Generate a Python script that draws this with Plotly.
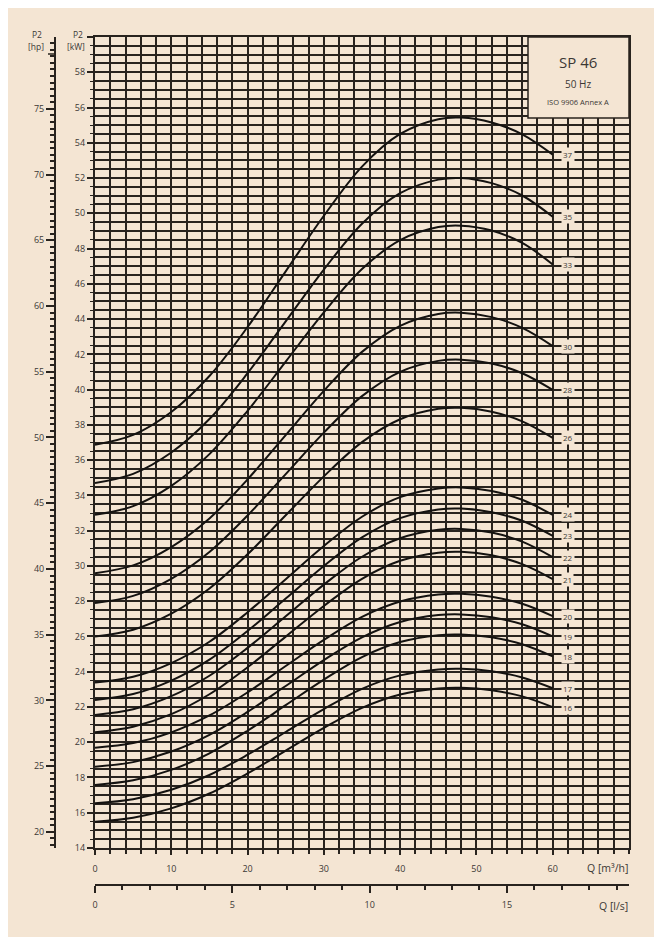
import plotly.graph_objects as go

# ---------------- data ----------------
Q_m3h = [0, 5, 10, 15, 20, 25, 30, 35, 40, 45, 48, 52, 56, 60]

P2_37 = [36.87, 37.43, 38.73, 40.77, 43.55, 46.71, 49.86, 52.65, 54.50, 55.34, 55.43, 55.15, 54.48, 53.33]
P2_35 = [34.70, 35.22, 36.43, 38.33, 40.93, 43.87, 46.81, 49.41, 51.14, 51.91, 52.00, 51.71, 51.01, 49.80]
P2_33 = [32.90, 33.39, 34.54, 36.34, 38.80, 41.59, 44.38, 46.84, 48.48, 49.22, 49.30, 49.02, 48.32, 47.10]
P2_30 = [29.59, 30.03, 31.07, 32.69, 34.91, 37.42, 39.93, 42.14, 43.62, 44.29, 44.36, 44.11, 43.50, 42.47]
P2_28 = [27.89, 28.30, 29.27, 30.79, 32.86, 35.21, 37.56, 39.63, 41.01, 41.63, 41.70, 41.48, 40.93, 39.98]
P2_26 = [25.99, 26.38, 27.29, 28.72, 30.66, 32.87, 35.08, 37.02, 38.32, 38.91, 38.97, 38.75, 38.20, 37.26]
P2_24 = [23.38, 23.71, 24.49, 25.70, 27.37, 29.25, 31.13, 32.79, 33.90, 34.39, 34.45, 34.25, 33.75, 32.89]
P2_23 = [22.40, 22.73, 23.49, 24.68, 26.31, 28.15, 30.00, 31.62, 32.71, 33.20, 33.25, 33.04, 32.56, 31.70]
P2_22 = [21.55, 21.87, 22.61, 23.77, 25.35, 27.14, 28.94, 30.52, 31.57, 32.05, 32.10, 31.89, 31.38, 30.50]
P2_21 = [20.57, 20.88, 21.59, 22.72, 24.25, 25.99, 27.73, 29.27, 30.29, 30.75, 30.80, 30.60, 30.10, 29.25]
P2_20 = [19.69, 19.95, 20.56, 21.52, 22.83, 24.32, 25.80, 27.11, 27.98, 28.38, 28.42, 28.25, 27.85, 27.15]
P2_19 = [18.61, 18.87, 19.47, 20.42, 21.72, 23.19, 24.66, 25.95, 26.82, 27.21, 27.25, 27.09, 26.69, 26.00]
P2_18 = [17.58, 17.84, 18.43, 19.37, 20.65, 22.10, 23.55, 24.83, 25.68, 26.07, 26.11, 25.95, 25.56, 24.87]
P2_17 = [16.54, 16.77, 17.30, 18.14, 19.29, 20.58, 21.88, 23.03, 23.79, 24.13, 24.17, 24.03, 23.67, 23.06]
P2_16 = [15.49, 15.72, 16.25, 17.09, 18.23, 19.52, 20.81, 21.95, 22.71, 23.05, 23.09, 22.95, 22.60, 21.99]

curve_labels = ["37", "35", "33", "30", "28", "26", "24", "23", "22", "21", "20", "19", "18", "17", "16"]
curve_values = [P2_37, P2_35, P2_33, P2_30, P2_28, P2_26, P2_24, P2_23, P2_22, P2_21,
                P2_20, P2_19, P2_18, P2_17, P2_16]

kw_ticks = list(range(14, 61, 2))
kw_ticktext = [str(v) for v in range(14, 59, 2)] + [""]
hp_ticks = list(range(20, 80, 5))
q_ticks = list(range(0, 61, 10))
ls_ticks = [0, 5, 10, 15]

title_main = "SP 46"
title_freq = "50 Hz"
title_norm = "ISO 9906 Annex A"

KW_PER_HP = 0.745699872
M3H_PER_LS = 3.6

# ---------------- styling / layout ----------------
WIDTH, HEIGHT = 662, 945
ML, MR, MT, MB = 20, 33, 37, 30
W = WIDTH - ML - MR
PH = HEIGHT - MT - MB

BG = "#f4e5d3"
GRID = "#28231e"
TXT = "#3b3835"
FONT = "Open Sans"


def px_x(px):
    return (px - ML) / W


def px_y(py):
    return (HEIGHT - MB - py) / PH


x_dom = [px_x(95), 1.0]
y_dom = [px_y(848), 1.0]

fig = go.Figure()

for lab, vals in zip(curve_labels, curve_values):
    fig.add_trace(go.Scatter(
        x=Q_m3h, y=vals, mode="lines",
        line=dict(color="#141210", width=2, shape="spline", smoothing=1.0),
        hoverinfo="skip", showlegend=False,
    ))

# invisible carriers for the secondary scales (hp and l/s)
fig.add_trace(go.Scatter(
    x=Q_m3h, y=[v / KW_PER_HP for v in P2_37], yaxis="y2",
    mode="lines", line=dict(width=0), opacity=0, hoverinfo="skip", showlegend=False))
fig.add_trace(go.Scatter(
    x=[q / M3H_PER_LS for q in Q_m3h], y=P2_37, xaxis="x2",
    mode="lines", line=dict(width=0), opacity=0, hoverinfo="skip", showlegend=False))

annotations = []
for lab, vals in zip(curve_labels, curve_values):
    annotations.append(dict(
        x=62, y=vals[-1], xref="x", yref="y", text=lab, showarrow=False,
        font=dict(family=FONT, size=8, color=TXT), bgcolor=BG, borderpad=1,
    ))


def ann_px(x, y, text, size=9, xanchor="center"):
    annotations.append(dict(
        x=px_x(x), y=px_y(y), xref="paper", yref="paper",
        text=text, showarrow=False,
        xanchor=xanchor, yanchor="middle",
        font=dict(family=FONT, size=size, color=TXT),
    ))


ann_px(37, 35, "P2", 8.5)
ann_px(36, 47, "[hp]", 8.5)
ann_px(78, 35, "P2", 8.5)
ann_px(76, 47, "[kW]", 8.5)
ann_px(630, 868, "Q [m³/h]", 10.5, xanchor="right")
ann_px(630, 906, "Q [l/s]", 10.5, xanchor="right")

# title box
ann_px(578, 62, title_main, 15)
ann_px(578, 84, title_freq, 10)
ann_px(578, 102, title_norm, 7.5)

shapes = [
    dict(type="rect", xref="paper", yref="paper", layer="below",
         x0=px_x(8), x1=px_x(654), y0=px_y(937), y1=px_y(8),
         fillcolor=BG, line=dict(width=0)),
    dict(type="rect", xref="paper", yref="paper", layer="above",
         x0=px_x(528), x1=px_x(629), y0=px_y(118), y1=px_y(37),
         fillcolor=BG, line=dict(color=GRID, width=1.5)),
    dict(type="line", xref="paper", yref="paper", layer="above",
         x0=px_x(48), x1=px_x(55), y0=px_y(54), y1=px_y(54),
         line=dict(color=GRID, width=1.5)),
]

fig.update_layout(
    width=WIDTH, height=HEIGHT,
    margin=dict(l=ML, r=MR, t=MT, b=MB),
    paper_bgcolor="#ffffff", plot_bgcolor=BG,
    showlegend=False,
    font=dict(family=FONT, size=9, color=TXT),
    xaxis=dict(
        domain=x_dom, range=[0, 70], anchor="y",
        tickvals=q_ticks, ticks="outside", ticklen=5, tickwidth=2, tickcolor=GRID,
        ticklabelstandoff=6,
        showgrid=True, gridcolor=GRID, gridwidth=2.4,
        minor=dict(dtick=2, tick0=0, showgrid=True, gridcolor=GRID, gridwidth=1.8,
                   ticks="outside", ticklen=4, tickcolor=GRID, tickwidth=1.5),
        showline=True, linecolor=GRID, linewidth=2.2, mirror=True,
        zeroline=False, fixedrange=True,
        tickfont=dict(family=FONT, size=9, color=TXT),
    ),
    yaxis=dict(
        domain=y_dom, range=[14, 60], anchor="x",
        tickvals=kw_ticks, ticktext=kw_ticktext,
        ticks="outside", ticklen=6, tickwidth=2, tickcolor=GRID,
        showgrid=True, gridcolor=GRID, gridwidth=2.1,
        minor=dict(dtick=0.5, tick0=0, showgrid=True, gridcolor=GRID, gridwidth=1.5,
                   ticks="outside", ticklen=3, tickcolor=GRID, tickwidth=1.2),
        showline=True, linecolor=GRID, linewidth=2.2, mirror=True,
        zeroline=False, fixedrange=True,
        tickfont=dict(family=FONT, size=9, color=TXT),
    ),
    yaxis2=dict(
        overlaying="y", anchor="free", position=px_x(55), side="left",
        range=[14 / KW_PER_HP, 60 / KW_PER_HP],
        tickvals=hp_ticks, ticks="outside", ticklen=8, tickwidth=2, tickcolor=GRID,
        minor=dict(dtick=0.5, tick0=0, ticks="outside", ticklen=4,
                   tickcolor=GRID, tickwidth=1.5, showgrid=False),
        showgrid=False, zeroline=False,
        showline=True, linecolor=GRID, linewidth=2,
        fixedrange=True,
        tickfont=dict(family=FONT, size=9, color=TXT),
    ),
    xaxis2=dict(
        overlaying="x", anchor="free", position=px_y(885), side="bottom",
        range=[0, 70 / M3H_PER_LS],
        tickvals=ls_ticks, ticks="outside", ticklen=7, tickwidth=2, tickcolor=GRID,
        ticklabelstandoff=4,
        minor=dict(dtick=1, tick0=0, ticks="outside", ticklen=4,
                   tickcolor=GRID, tickwidth=1.5, showgrid=False),
        showgrid=False, zeroline=False,
        showline=True, linecolor=GRID, linewidth=2,
        fixedrange=True,
        tickfont=dict(family=FONT, size=9, color=TXT),
    ),
    annotations=annotations,
    shapes=shapes,
)

fig.write_html("out.html")
